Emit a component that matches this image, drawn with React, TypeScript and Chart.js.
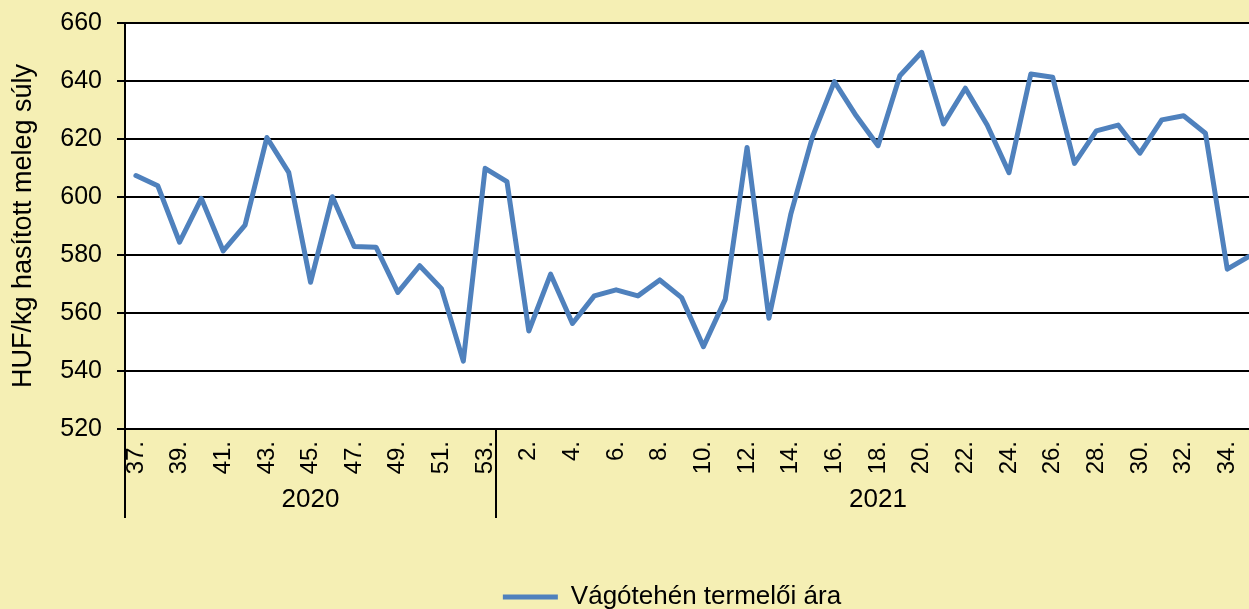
import { useEffect, useRef } from 'react';
import { Chart, registerables } from 'chart.js';

Chart.register(...registerables);

const weeks2020 = ['37.', '38.', '39.', '40.', '41.', '42.', '43.', '44.', '45.', '46.', '47.', '48.', '49.', '50.', '51.', '52.', '53.'];
const weeks2021 = ['1.', '2.', '3.', '4.', '5.', '6.', '7.', '8.', '9.', '10.', '11.', '12.', '13.', '14.', '15.', '16.', '17.', '18.', '19.', '20.', '21.', '22.', '23.', '24.', '25.', '26.', '27.', '28.', '29.', '30.', '31.', '32.', '33.', '34.', '35.'];
const values2020 = [607.4, 603.9, 584.4, 599.5, 581.4, 590.3, 620.5, 608.5, 570.6, 600.1, 582.9, 582.7, 567.1, 576.3, 568.4, 543.4, 609.9];
const values2021 = [605.3, 553.8, 573.4, 556.4, 565.9, 568.0, 565.9, 571.4, 565.3, 548.4, 564.7, 617.1, 558.2, 594.0, 620.8, 639.8, 628.0, 617.7, 641.8, 649.9, 625.2, 637.5, 624.8, 608.4, 642.4, 641.3, 611.6, 622.8, 624.8, 615.1, 626.6, 628.0, 622.0, 575.1, 579.5];
const years = ['2020', '2021'];
const seriesName = 'Vágótehén termelői ára';
const yTitle = 'HUF/kg hasított meleg súly';
const yMin = 520;
const yMax = 660;
const yStep = 20;

const FONT = '"Liberation Sans", Arial, sans-serif';
const BG = '#F5EFB4';
const LINE = '#4F81BD';

export default function App() {
  const ref = useRef<HTMLCanvasElement>(null);

  useEffect(() => {
    const canvas = ref.current;
    if (!canvas) return;
    const labels = [...weeks2020, ...weeks2021];
    const data = [...values2020, ...values2021];
    const groups = [
      { name: years[0], from: 0, to: weeks2020.length - 1 },
      { name: years[1], from: weeks2020.length, to: labels.length - 1 },
    ];

    const bgPlugin = {
      id: 'bg',
      beforeDraw(chart: any) {
        const { ctx, chartArea: a } = chart;
        ctx.save();
        ctx.fillStyle = BG;
        ctx.fillRect(0, 0, chart.width, chart.height);
        ctx.fillStyle = '#ffffff';
        ctx.fillRect(a.left, a.top, a.right - a.left, a.bottom - a.top);
        ctx.restore();
      },
    };

    const groupPlugin = {
      id: 'groups',
      afterDraw(chart: any) {
        const x = chart.scales.x;
        const { ctx, chartArea: a } = chart;
        const half = (x.getPixelForValue(1) - x.getPixelForValue(0)) / 2;
        ctx.save();
        ctx.strokeStyle = '#000';
        ctx.lineWidth = 2;
        ctx.fillStyle = '#000';
        ctx.font = `26px ${FONT}`;
        ctx.textAlign = 'center';
        ctx.textBaseline = 'middle';
        groups.forEach((g) => {
          const l = Math.round(x.getPixelForValue(g.from) - half);
          const r = Math.round(x.getPixelForValue(g.to) + half);
          [l, r].forEach((px) => {
            ctx.beginPath();
            ctx.moveTo(px, a.bottom);
            ctx.lineTo(px, a.bottom + 89);
            ctx.stroke();
          });
          ctx.fillText(g.name, (l + r) / 2, a.bottom + 71);
        });
        ctx.restore();
      },
    };

    const chart = new Chart(canvas, {
      type: 'line',
      data: {
        labels,
        datasets: [
          {
            label: seriesName,
            data,
            borderColor: LINE,
            backgroundColor: LINE,
            borderWidth: 5,
            pointRadius: 0,
            tension: 0,
            borderJoinStyle: 'round',
            borderCapStyle: 'round',
          },
        ],
      },
      options: {
        responsive: false,
        animation: false,
        devicePixelRatio: 1,
        layout: { padding: { top: 23, bottom: -11, left: 0, right: 0 } },
        plugins: {
          legend: {
            position: 'bottom',
            labels: {
              usePointStyle: true,
              pointStyle: 'line',
              pointStyleWidth: 55,
              color: '#000',
              font: { family: FONT, size: 26 },
              padding: 10,
            },
          },
          tooltip: { enabled: false },
        },
        scales: {
          x: {
            type: 'category',
            offset: true,
            grid: { display: false },
            border: { display: true, color: '#000', width: 2 },
            ticks: {
              autoSkip: false,
              minRotation: 90,
              maxRotation: 90,
              padding: 4,
              color: '#000',
              font: { family: FONT, size: 24 },
              callback: (_v: any, i: number) => (i % 2 === 0 ? labels[i] : ''),
            },
            afterFit: (s: any) => {
              s.height = 145;
            },
          },
          y: {
            min: yMin,
            max: yMax,
            ticks: { stepSize: yStep, padding: 15, color: '#000', font: { family: FONT, size: 25, lineHeight: 0.6 } },
            grid: { color: '#000', lineWidth: 2, tickLength: 8 },
            border: { color: '#000', width: 2 },
            title: {
              display: true,
              text: yTitle,
              color: '#000',
              font: { family: FONT, size: 27 },
              padding: { top: 7, bottom: 0 },
            },
            afterFit: (s: any) => {
              s.width = 125;
            },
          },
          y2: {
            position: 'right',
            display: true,
            grid: { display: false },
            border: { display: false },
            ticks: { display: false },
            afterFit: (s: any) => {
              s.width = 84;
            },
          },
        },
      } as any,
      plugins: [bgPlugin, groupPlugin],
    });

    return () => chart.destroy();
  }, []);

  return (
    <div style={{ position: 'fixed', left: 0, top: 0, width: 1249, height: 609, overflow: 'hidden', background: BG }}>
      <canvas ref={ref} width={1344} height={609} style={{ display: 'block', width: 1344, height: 609 }} />
    </div>
  );
}
